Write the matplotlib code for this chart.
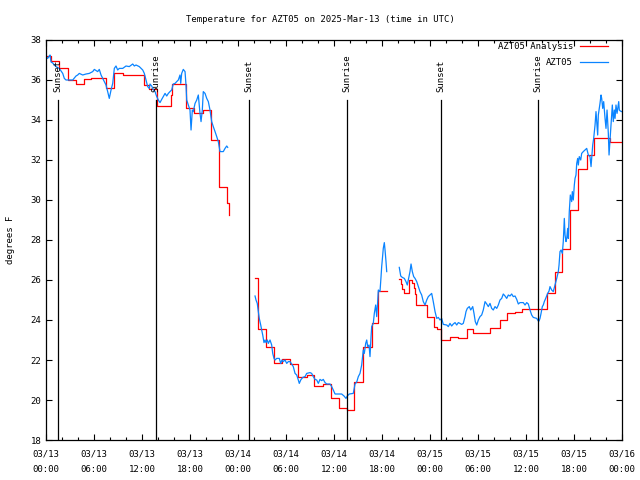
import matplotlib
matplotlib.use("Agg")
import matplotlib.pyplot as plt
import matplotlib.dates as mdates
import numpy as np
import pandas as pd

plt.rcParams['font.family'] = ['DejaVu Sans Mono']
plt.rcParams['font.size'] = 6.5

start = pd.Timestamp("2025-03-13 00:00")
end = pd.Timestamp("2025-03-16 00:00")

# analysis (red) step breakpoints, hours since start / degrees F
ana_a_hours = [0.0, 0.6, 1.66, 2.7, 3.75, 4.8, 5.6, 7.5, 8.5, 9.6, 12.3, 12.9, 13.84,
               15.6, 15.8, 17.5, 18.5, 19.6, 20.6, 21.6, 22.6, 22.85]
ana_a_temp = [37.2, 36.95, 36.58, 36.0, 35.78, 36.03, 36.08, 35.58, 36.37, 36.25, 35.75, 35.53, 34.7,
              35.25, 35.8, 34.58, 34.37, 34.5, 33.0, 30.65, 29.85, 29.25]
ana_b_hours = [26.15, 26.54, 27.5, 28.54, 29.54, 30.5, 31.54, 32.59, 33.54, 34.59, 35.63, 36.63,
               37.66, 38.55, 39.66, 40.7, 41.5, 42.6]
ana_b_temp = [26.08, 23.53, 22.63, 21.83, 22.03, 21.78, 21.13, 21.25, 20.7, 20.8, 20.08, 19.62,
              19.5, 20.88, 22.63, 23.83, 25.45, 25.45]
ana_c_hours = [44.16, 44.35, 44.55, 44.7, 45.4, 45.7, 45.95, 46.1, 46.3, 47.6, 48.5, 48.9, 49.4,
               50.5, 51.5, 52.6, 53.4, 55.5, 56.7, 57.6, 58.6, 59.5, 62.6, 63.6, 64.5, 65.5,
               66.5, 67.6, 68.5, 70.5, 72.0]
ana_c_temp = [26.03, 25.8, 25.55, 25.37, 26.0, 25.85, 25.6, 25.3, 24.75, 24.13, 23.63, 23.53, 23.0,
              23.17, 23.08, 23.53, 23.33, 23.58, 24.0, 24.33, 24.42, 24.53, 25.33, 26.42, 27.55, 29.5,
              31.55, 32.25, 33.08, 32.92, 32.92]

# station observations (blue)
obs_a_hours = [0.0, 0.21, 0.41, 0.5, 0.63, 0.84, 1.04, 1.25, 1.66, 2.09, 2.29, 2.5, 2.91, 3.34,
               3.75, 3.96, 4.16, 4.59, 5.0, 5.41, 5.84, 6.04, 6.46, 6.66, 6.88, 7.09, 7.29, 7.5,
               7.71, 7.91, 8.13, 8.34, 8.54, 8.75, 8.96, 9.16, 9.59, 10.0, 10.41, 10.84, 11.04,
               11.25, 11.66, 12.09, 12.29, 12.5, 12.71, 12.91, 13.0, 13.21, 13.41, 13.63, 13.84,
               14.04, 14.25, 14.46, 14.66, 14.88, 15.09, 15.29, 15.5, 15.71, 15.91, 16.13, 16.34,
               16.54, 16.75, 16.84, 16.96, 17.16, 17.38, 17.5, 17.59, 17.79, 18.0, 18.13, 18.29,
               18.41, 18.63, 18.84, 19.04, 19.25, 19.38, 19.54, 19.66, 19.88, 20.09, 20.29, 20.5,
               20.71, 20.91, 21.13, 21.34, 21.54, 21.75, 21.96, 22.16, 22.38, 22.59, 22.71]
obs_a_temp = [37.17, 37.08, 37.2, 37.25, 36.9, 36.85, 36.75, 36.67, 36.58, 36.33, 36.08, 36.0, 36.0, 36.0,
              36.2, 36.25, 36.33, 36.25, 36.3, 36.33, 36.42, 36.53, 36.42, 36.53, 36.25, 36.08, 35.92, 35.75,
              35.42, 35.08, 35.5, 35.83, 36.58, 36.7, 36.5, 36.58, 36.58, 36.7, 36.67, 36.8, 36.7,
              36.75, 36.67, 36.5, 36.33, 36.0, 35.67, 35.58, 35.8, 35.7, 35.53, 35.42, 35.17,
              35.0, 34.87, 35.03, 35.17, 35.33, 35.2, 35.33, 35.42, 35.5, 35.8, 35.83, 35.92,
              36.0, 36.25, 35.83, 36.33, 36.53, 36.42, 35.75, 35.0, 34.75, 34.5, 33.5, 34.5,
              34.42, 34.83, 35.0, 35.25, 34.33, 33.92, 34.5, 35.42, 35.33, 35.08, 34.92, 34.5,
              33.92, 33.67, 33.42, 33.17, 32.92, 32.42, 32.42, 32.42, 32.58, 32.7, 32.63]
obs_b_hours = [26.13, 26.25, 26.41, 26.54, 26.66, 26.84, 26.96, 27.09, 27.25, 27.38, 27.5, 27.66,
               27.79, 28.0, 28.21, 28.34, 28.5, 28.63, 28.84, 29.16, 29.34, 29.5, 29.66, 29.88,
               30.09, 30.29, 30.5, 30.71, 30.91, 31.13, 31.34, 31.54, 31.66, 31.84, 32.09, 32.38,
               32.59, 33.0, 33.21, 33.41, 33.63, 33.84, 34.04, 34.25, 34.46, 34.66, 34.88, 35.09,
               35.5, 35.71, 35.91, 36.13, 36.54, 36.96, 37.25, 37.5, 37.66, 37.91, 38.41, 38.63,
               38.84, 39.04, 39.25, 39.46, 39.66, 39.79, 39.96, 40.09, 40.21, 40.38, 40.5, 40.63,
               40.71, 40.91, 41.04, 41.21, 41.34, 41.46, 41.54, 41.75, 41.88, 41.96, 42.09, 42.16,
               42.29, 42.38, 42.5, 42.59]
obs_b_temp = [25.2, 25.0, 24.83, 24.42, 24.08, 23.75, 23.5, 23.25, 22.87, 23.0, 22.87, 23.0,
              22.83, 23.0, 22.75, 22.33, 22.08, 22.0, 22.08, 22.08, 21.83, 22.0, 21.92, 22.0,
              21.83, 21.92, 21.92, 21.8, 21.67, 21.33, 21.25, 21.0, 20.83, 21.0, 21.13, 21.17,
              21.33, 21.37, 21.33, 21.17, 21.03, 21.0, 20.83, 21.03, 20.97, 21.03, 20.87, 20.8,
              20.8, 20.67, 20.5, 20.3, 20.3, 20.3, 20.2, 20.08, 20.2, 20.3, 20.33, 20.8,
              20.9, 21.17, 21.33, 21.75, 22.5, 22.33, 22.83, 23.0, 22.67, 22.75, 22.17, 23.17,
              23.67, 23.83, 24.33, 24.75, 24.17, 24.92, 25.5, 25.42, 26.17, 26.67, 27.25, 27.58,
              27.87, 27.5, 26.92, 26.42]
obs_c_hours = [44.16, 44.34, 44.54, 44.79, 45.0, 45.16, 45.29, 45.5, 45.63, 45.79, 45.96, 46.13,
               46.34, 46.54, 46.75, 46.96, 47.16, 47.38, 47.59, 47.79, 48.0, 48.21, 48.41, 48.63,
               48.84, 49.04, 49.25, 49.46, 49.66, 50.09, 50.29, 50.5, 50.71, 50.91, 51.13, 51.34,
               51.54, 51.75, 51.96, 52.16, 52.38, 52.5, 52.66, 52.91, 53.09, 53.34, 53.5, 53.66,
               53.84, 54.04, 54.25, 54.46, 54.66, 54.88, 55.09, 55.29, 55.5, 55.71, 55.91, 56.13,
               56.34, 56.54, 56.75, 56.96, 57.16, 57.38, 57.59, 57.79, 58.0, 58.21, 58.41, 58.63,
               58.84, 59.04, 59.25, 59.66, 59.88, 60.09, 60.29, 60.5, 60.71, 60.91, 61.34, 61.54,
               61.63, 61.75, 61.88, 62.04, 62.16, 62.29, 62.46, 62.71, 62.88, 63.0, 63.21, 63.41,
               63.63, 63.84, 64.04, 64.13, 64.25, 64.38, 64.54, 64.66, 64.79, 64.88, 65.0, 65.09,
               65.21, 65.29, 65.41, 65.54, 65.71, 65.79, 65.91, 66.04, 66.13, 66.25, 66.34, 66.46,
               66.54, 66.66, 66.84, 66.96, 67.16, 67.38, 67.59, 67.79, 68.0, 68.13, 68.21, 68.34,
               68.46, 68.63, 68.75, 68.84, 68.96, 69.04, 69.25, 69.38, 69.46, 69.59, 69.71, 69.88,
               70.0, 70.13, 70.29, 70.38, 70.5, 70.63, 70.79, 70.91, 71.04, 71.13, 71.25, 71.38,
               71.59, 71.66, 71.79, 71.96]
obs_c_temp = [26.63, 26.2, 26.13, 26.08, 25.92, 25.75, 26.0, 26.42, 26.8, 26.42, 26.17, 26.08,
              25.92, 25.67, 25.42, 25.25, 24.92, 24.75, 25.0, 25.17, 25.25, 25.33, 24.92, 24.42,
              24.08, 24.13, 24.0, 24.08, 23.78, 23.75, 23.67, 23.83, 23.7, 23.8, 23.87, 23.75,
              23.87, 23.83, 23.78, 23.83, 24.17, 24.42, 24.58, 24.67, 24.5, 24.67, 24.33, 23.92,
              23.75, 24.0, 24.17, 24.25, 24.5, 24.92, 24.8, 24.67, 24.83, 24.58, 24.5, 24.67,
              24.58, 24.75, 25.0, 25.08, 25.3, 25.2, 25.08, 25.25, 25.2, 25.3, 25.17, 25.2,
              25.03, 24.8, 24.87, 24.87, 24.75, 24.87, 24.8, 24.5, 24.25, 24.13, 24.08, 23.95,
              23.95, 24.08, 24.33, 24.67, 24.75, 24.92, 25.08, 25.33, 25.45, 25.67, 25.5, 25.42,
              25.75, 26.08, 26.42, 26.75, 27.42, 27.5, 27.33, 27.92, 29.08, 28.25, 27.92, 28.08,
              28.58, 28.08, 29.42, 30.25, 29.92, 30.42, 30.0, 30.75, 31.08, 31.25, 31.83, 32.08,
              31.75, 32.17, 32.0, 32.33, 32.42, 32.5, 32.58, 32.25, 32.17, 31.67, 32.08, 32.75,
              33.08, 33.75, 34.42, 33.92, 33.25, 34.25, 34.83, 35.25, 35.08, 34.58, 34.92, 34.08,
              33.58, 34.5, 33.33, 32.25, 33.0, 33.75, 34.75, 33.92, 34.5, 34.08, 34.75, 34.33,
              34.92, 34.5, 34.45, 34.42]

# sunrise / sunset events
event_hours = [1.54, 13.75, 25.4, 37.66, 49.42, 61.54]
event_names = ["Sunset", "Sunrise", "Sunset", "Sunrise", "Sunset", "Sunrise"]


def to_time(hours):
    return start + pd.to_timedelta(np.asarray(hours), unit="h")


fig = plt.figure(figsize=(6.4, 4.8), dpi=100)
ax = fig.add_axes([46 / 640, 40 / 480, 576 / 640, 400 / 480])

red = '#ff0000'
blue = '#0a84ff'

first = True
for hh, tt in [(ana_a_hours, ana_a_temp), (ana_b_hours, ana_b_temp), (ana_c_hours, ana_c_temp)]:
    ax.step(to_time(hh), tt, where='post', color=red, lw=0.9,
            label='AZT05 Analysis' if first else None)
    first = False

first = True
for hh, tt in [(obs_a_hours, obs_a_temp), (obs_b_hours, obs_b_temp), (obs_c_hours, obs_c_temp)]:
    ax.plot(to_time(hh), tt, color=blue, lw=0.9, label='AZT05' if first else None)
    first = False

for h, name in zip(event_hours, event_names):
    t = to_time([h])[0]
    ax.plot([t, t], [18, 35], color='black', lw=0.9)
    ax.text(t, 35.4, name, rotation=90, ha='center', va='bottom', fontsize=6.5)

ax.set_xlim(start, end)
ax.set_ylim(18, 38)
ax.set_yticks(np.arange(18, 39, 2))
ax.xaxis.set_major_locator(mdates.HourLocator(byhour=[0, 6, 12, 18]))
ax.xaxis.set_minor_locator(mdates.HourLocator(byhour=range(0, 24, 2)))
ax.xaxis.set_major_formatter(mdates.DateFormatter('%m/%d\n%H:%M'))
ax.tick_params(which='both', direction='in', top=True, right=True, color='black', width=0.8)
ax.tick_params(which='major', length=4.5)
ax.tick_params(which='minor', length=2.5)
ax.tick_params(axis='x', pad=7)
for lab in ax.get_xticklabels():
    lab.set_linespacing(1.85)
for sp in ax.spines.values():
    sp.set_linewidth(0.9)

ax.set_ylabel('degrees F', labelpad=11)
fig.text(0.5, 1 - 19 / 480, 'Temperature for AZT05 on 2025-Mar-13 (time in UTC)',
         ha='center', va='center', fontsize=6.5)

ax.legend(loc='upper right', bbox_to_anchor=(0.98, 1.0), frameon=False, markerfirst=False,
          handlelength=3.1, handletextpad=0.8, labelspacing=0.75, borderpad=0.25, borderaxespad=0)

fig.savefig('out.png', dpi=100)
